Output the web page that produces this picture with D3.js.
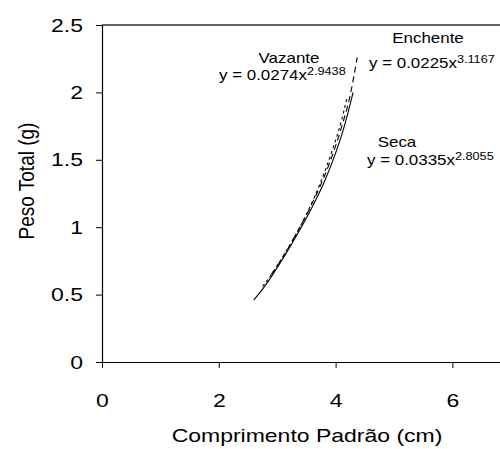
<!DOCTYPE html>
<html>
<head>
<meta charset="utf-8">
<script src="https://cdn.jsdelivr.net/npm/d3@7"></script>
<style>
  html, body { margin: 0; padding: 0; background: #fff; }
  svg { display: block; font-family: "Liberation Sans", Arial, sans-serif; }
</style>
</head>
<body>
<svg id="chart" width="500" height="449"></svg>
<script>
// ---- data ----
const xTicks = [0, 2, 4, 6];
const yTicks = [0, 0.5, 1, 1.5, 2, 2.5];

const secaX = [2.6, 2.8, 3.0, 3.2, 3.4, 3.6, 3.8, 4.0, 4.15, 4.3];
const secaY = [0.46, 0.57, 0.70, 0.84, 0.99, 1.15, 1.33, 1.55, 1.75, 2.00];

const vazanteX = [2.75, 2.95, 3.15, 3.35, 3.55, 3.75, 3.95, 4.1, 4.2];
const vazanteY = [0.56, 0.68, 0.82, 0.97, 1.14, 1.34, 1.58, 1.79, 1.97];

const enchenteX = [2.9, 3.1, 3.3, 3.5, 3.7, 3.9, 4.1, 4.25, 4.37];
const enchenteY = [0.65, 0.78, 0.93, 1.09, 1.27, 1.48, 1.74, 1.98, 2.26];

const labels = [
  { name: "Vazante",  coef: "0.0274", exp: "2.9438" },
  { name: "Enchente", coef: "0.0225", exp: "3.1167" },
  { name: "Seca",     coef: "0.0335", exp: "2.8055" }
];

// ---- layout ----
const SX = 1.21; // horizontal stretch of the original
const svg = d3.select("#chart");
const x = d3.scaleLinear().domain([0, 7]).range([102, 102 + 7 * 58.4]);
const y = d3.scaleLinear().domain([0, 2.5]).range([362, 25]);

// top frame line
svg.append("line")
  .attr("x1", x(0)).attr("x2", 500)
  .attr("y1", y(2.5)).attr("y2", y(2.5))
  .attr("stroke", "#333").attr("stroke-width", 1.3);

// x axis
const gx = svg.append("g").attr("transform", `translate(0,${y(0)})`)
  .call(d3.axisBottom(x).tickValues(xTicks).tickSize(6).tickSizeOuter(0).tickFormat(d3.format("d")));
gx.select(".domain").attr("stroke", "#000").attr("stroke-width", 1.2);
gx.selectAll(".tick line").attr("stroke", "#000");
gx.selectAll(".tick text")
  .attr("font-size", 19).attr("fill", "#000")
  .attr("y", 31.5)
  .attr("font-family", "Liberation Sans, Arial, sans-serif")
  .attr("transform", `scale(${SX},1)`);

// y axis
const gy = svg.append("g").attr("transform", `translate(${x(0)},0)`)
  .call(d3.axisLeft(y).tickValues(yTicks).tickSize(6).tickSizeOuter(0).tickFormat(d => String(d)));
gy.select(".domain").attr("stroke", "#000").attr("stroke-width", 1.2);
gy.selectAll(".tick line").attr("stroke", "#000");
gy.selectAll(".tick text")
  .attr("font-size", 19).attr("fill", "#000")
  .attr("x", -15.7)
  .attr("font-family", "Liberation Sans, Arial, sans-serif")
  .attr("transform", `scale(${SX},1)`);

// axis titles
svg.append("text")
  .attr("transform", `translate(307,442) scale(${SX},1)`)
  .attr("text-anchor", "middle").attr("font-size", 19).attr("fill", "#000")
  .text("Comprimento Padrão (cm)");
svg.append("text")
  .attr("transform", `translate(33.5,181) scale(${SX},1) rotate(-90)`)
  .attr("text-anchor", "middle").attr("font-size", 19).attr("fill", "#000")
  .text("Peso Total (g)");

// curves
const line = d3.line().x(d => x(d[0])).y(d => y(d[1])).curve(d3.curveMonotoneX);
const series = [
  { xs: secaX, ys: secaY, dash: null },
  { xs: vazanteX, ys: vazanteY, dash: "3,3" },
  { xs: enchenteX, ys: enchenteY, dash: "6,4" }
];
series.forEach(s => {
  svg.append("path")
    .datum(s.xs.map((v, i) => [v, s.ys[i]]))
    .attr("d", line)
    .attr("fill", "none")
    .attr("stroke", "#000")
    .attr("stroke-width", 1.1)
    .attr("stroke-dasharray", s.dash);
});

// annotations
function annot(lbl, nameX, nameY, eqX, eqY) {
  svg.append("text")
    .attr("transform", `translate(${nameX},${nameY}) scale(${SX},1)`)
    .attr("text-anchor", "middle").attr("font-size", 14).attr("fill", "#000")
    .text(lbl.name);
  const t = svg.append("text")
    .attr("transform", `translate(${eqX},${eqY}) scale(${SX},1)`)
    .attr("font-size", 14).attr("fill", "#000");
  t.append("tspan").text(`y = ${lbl.coef}x`);
  t.append("tspan").attr("font-size", 10.5).attr("dy", -5).text(lbl.exp);
}
annot(labels[0], 289, 63, 219, 80);
annot(labels[1], 428, 43, 369, 68);
annot(labels[2], 397, 147, 367, 165);
</script>
</body>
</html>
